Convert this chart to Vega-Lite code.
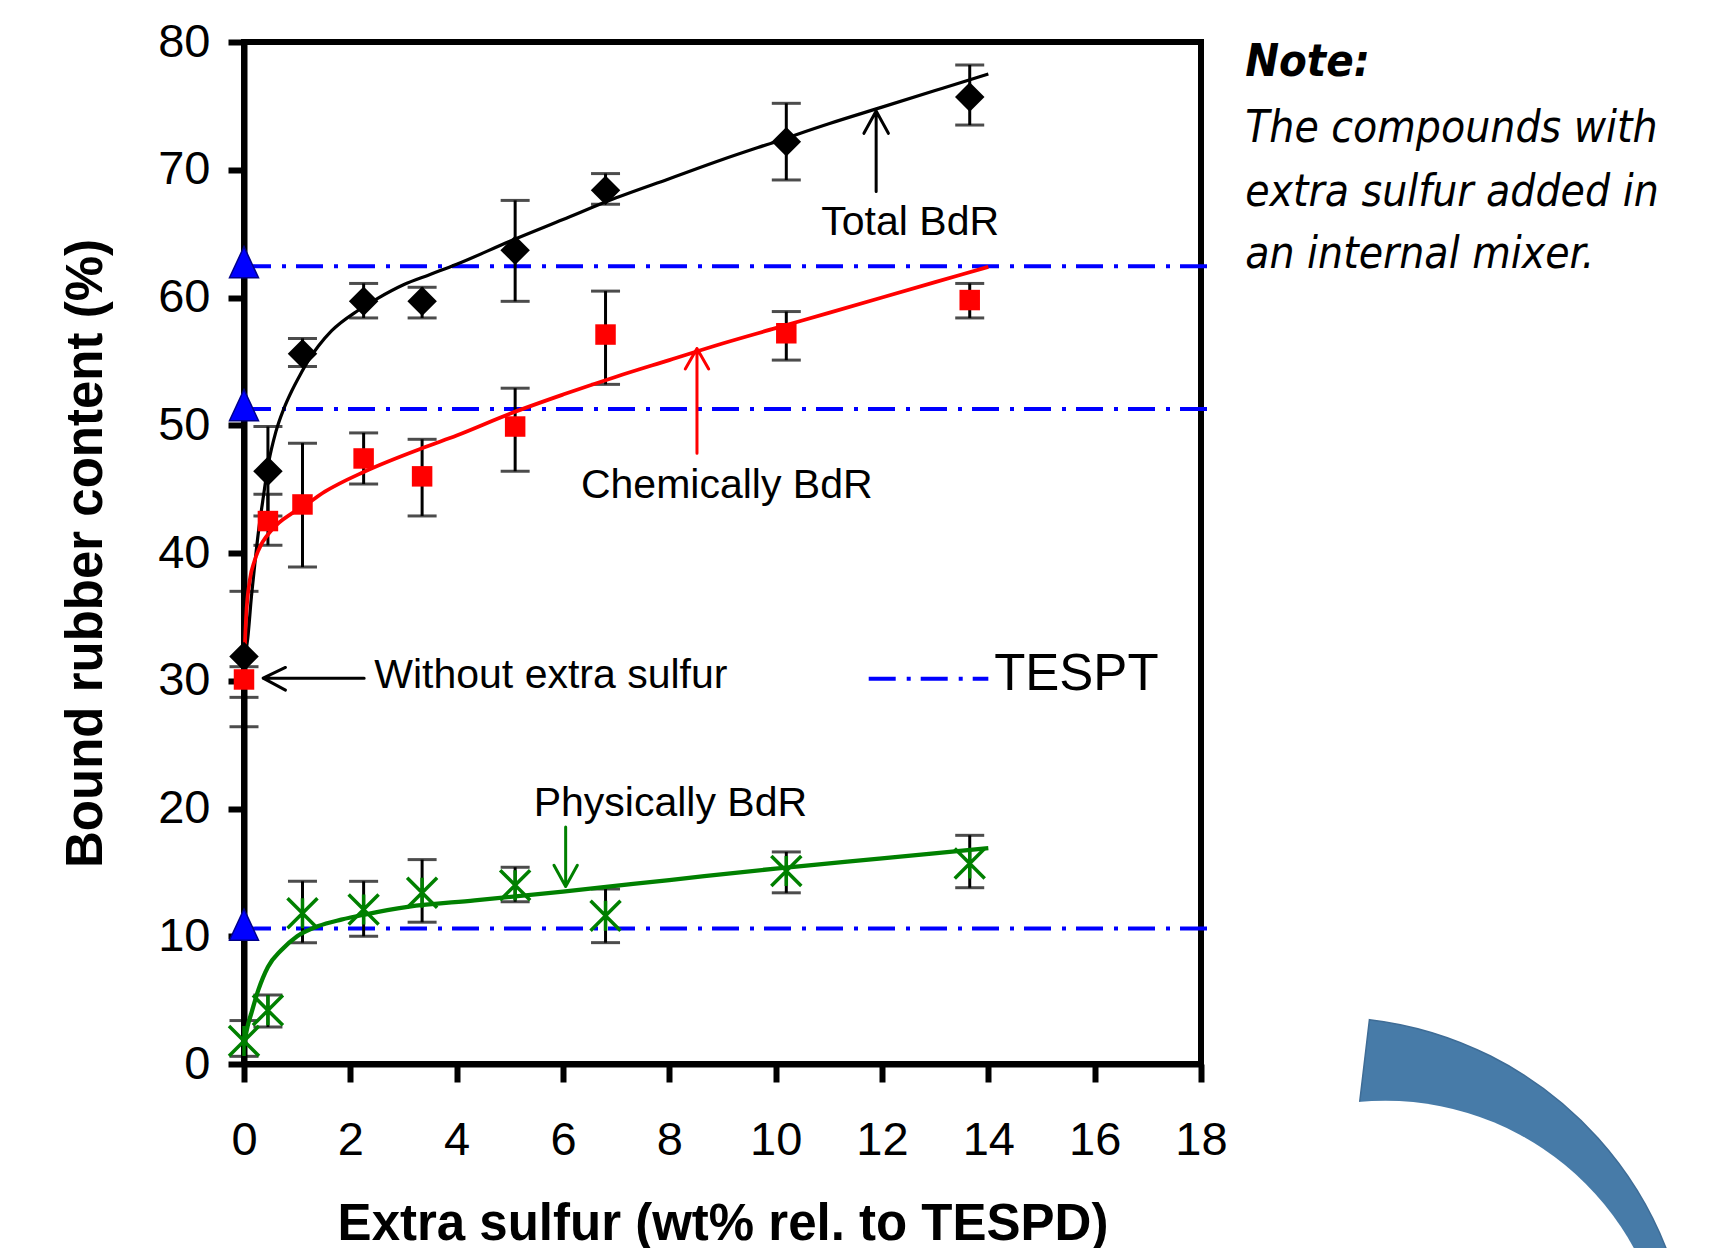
{
  "$schema": "https://vega.github.io/schema/vega-lite/v6.json",
  "autosize": {"type": "none"},
  "width": 957,
  "height": 1022,
  "padding": {"left": 244, "top": 42, "right": 523, "bottom": 184},
  "background": "white",
  "config": {
    "view": {"stroke": "black", "strokeWidth": 6},
    "axis": {
      "grid": false,
      "domainColor": "black",
      "domainWidth": 6,
      "tickColor": "black",
      "tickWidth": 6,
      "labelFont": "Liberation Sans",
      "labelFontSize": 47,
      "labelColor": "black",
      "labelOverlap": false,
      "labelFlush": false,
      "titleFont": "Liberation Sans",
      "titleFontSize": 51,
      "titleFontWeight": "bold",
      "titleColor": "black",
      "zindex": 1
    }
  },
  "datasets": {
    "pts": [
      {"series": "Total", "x": 0, "y": 31.9, "lo": 26.4, "hi": 37.0},
      {"series": "Total", "x": 0.45, "y": 46.4, "lo": 42.9, "hi": 49.9},
      {"series": "Total", "x": 1.1, "y": 55.6, "lo": 54.6, "hi": 56.8},
      {"series": "Total", "x": 2.25, "y": 59.7, "lo": 58.4, "hi": 61.1},
      {"series": "Total", "x": 3.35, "y": 59.7, "lo": 58.4, "hi": 60.8},
      {"series": "Total", "x": 5.1, "y": 63.7, "lo": 59.7, "hi": 67.6},
      {"series": "Total", "x": 6.8, "y": 68.4, "lo": 67.3, "hi": 69.7},
      {"series": "Total", "x": 10.2, "y": 72.2, "lo": 69.2, "hi": 75.2},
      {"series": "Total", "x": 13.65, "y": 75.7, "lo": 73.5, "hi": 78.2},
      {"series": "Chemically", "x": 0, "y": 30.1, "lo": 28.7, "hi": 31.1},
      {"series": "Chemically", "x": 0.45, "y": 42.5, "lo": 40.6, "hi": 44.6},
      {"series": "Chemically", "x": 1.1, "y": 43.8, "lo": 38.9, "hi": 48.6},
      {"series": "Chemically", "x": 2.25, "y": 47.4, "lo": 45.4, "hi": 49.4},
      {"series": "Chemically", "x": 3.35, "y": 46.0, "lo": 42.9, "hi": 48.9},
      {"series": "Chemically", "x": 5.1, "y": 49.9, "lo": 46.4, "hi": 52.9},
      {"series": "Chemically", "x": 6.8, "y": 57.1, "lo": 53.2, "hi": 60.5},
      {"series": "Chemically", "x": 10.2, "y": 57.2, "lo": 55.1, "hi": 58.9},
      {"series": "Chemically", "x": 13.65, "y": 59.8, "lo": 58.4, "hi": 61.1},
      {"series": "Physically", "x": 0, "y": 1.8, "lo": 0.6, "hi": 3.4},
      {"series": "Physically", "x": 0.45, "y": 4.2, "lo": 2.9, "hi": 5.4},
      {"series": "Physically", "x": 1.1, "y": 11.8, "lo": 9.5, "hi": 14.3},
      {"series": "Physically", "x": 2.25, "y": 12.1, "lo": 10.0, "hi": 14.3},
      {"series": "Physically", "x": 3.35, "y": 13.4, "lo": 11.1, "hi": 16.0},
      {"series": "Physically", "x": 5.1, "y": 14.0, "lo": 12.7, "hi": 15.4},
      {"series": "Physically", "x": 6.8, "y": 11.6, "lo": 9.5, "hi": 13.7},
      {"series": "Physically", "x": 10.2, "y": 15.1, "lo": 13.4, "hi": 16.6},
      {"series": "Physically", "x": 13.65, "y": 15.7, "lo": 13.8, "hi": 17.9}
    ],
    "curves": [
      {"series": "Total", "x": 0, "y": 31.4},
      {"series": "Total", "x": 0.07, "y": 33.3},
      {"series": "Total", "x": 0.14, "y": 36.6},
      {"series": "Total", "x": 0.2, "y": 39.0},
      {"series": "Total", "x": 0.27, "y": 41.6},
      {"series": "Total", "x": 0.35, "y": 44.0},
      {"series": "Total", "x": 0.46, "y": 47.0},
      {"series": "Total", "x": 0.6, "y": 49.5},
      {"series": "Total", "x": 0.75, "y": 51.3},
      {"series": "Total", "x": 0.9, "y": 52.7},
      {"series": "Total", "x": 1.05, "y": 53.9},
      {"series": "Total", "x": 1.2, "y": 55.0},
      {"series": "Total", "x": 1.4, "y": 56.2},
      {"series": "Total", "x": 1.65, "y": 57.4},
      {"series": "Total", "x": 2.15, "y": 59.0},
      {"series": "Total", "x": 2.5, "y": 59.9},
      {"series": "Total", "x": 3.0, "y": 61.0},
      {"series": "Total", "x": 3.5, "y": 61.8},
      {"series": "Total", "x": 4.0, "y": 62.6},
      {"series": "Total", "x": 5.0, "y": 64.4},
      {"series": "Total", "x": 6.0, "y": 66.1},
      {"series": "Total", "x": 7.0, "y": 67.8},
      {"series": "Total", "x": 8.0, "y": 69.3},
      {"series": "Total", "x": 9.0, "y": 70.8},
      {"series": "Total", "x": 10.0, "y": 72.2},
      {"series": "Total", "x": 11.0, "y": 73.6},
      {"series": "Total", "x": 12.0, "y": 74.9},
      {"series": "Total", "x": 13.0, "y": 76.2},
      {"series": "Total", "x": 14.0, "y": 77.5},
      {"series": "Chemically", "x": 0, "y": 30.1},
      {"series": "Chemically", "x": 0.015, "y": 32.5},
      {"series": "Chemically", "x": 0.04, "y": 35.0},
      {"series": "Chemically", "x": 0.11, "y": 37.9},
      {"series": "Chemically", "x": 0.2, "y": 39.4},
      {"series": "Chemically", "x": 0.27, "y": 40.2},
      {"series": "Chemically", "x": 0.52, "y": 41.8},
      {"series": "Chemically", "x": 0.9, "y": 43.1},
      {"series": "Chemically", "x": 1.1, "y": 43.6},
      {"series": "Chemically", "x": 1.52, "y": 44.8},
      {"series": "Chemically", "x": 2.28, "y": 46.4},
      {"series": "Chemically", "x": 3.41, "y": 48.3},
      {"series": "Chemically", "x": 4.0, "y": 49.2},
      {"series": "Chemically", "x": 5.0, "y": 50.9},
      {"series": "Chemically", "x": 6.0, "y": 52.4},
      {"series": "Chemically", "x": 7.0, "y": 53.8},
      {"series": "Chemically", "x": 8.0, "y": 55.1},
      {"series": "Chemically", "x": 9.0, "y": 56.4},
      {"series": "Chemically", "x": 10.0, "y": 57.6},
      {"series": "Chemically", "x": 11.0, "y": 58.8},
      {"series": "Chemically", "x": 12.0, "y": 60.0},
      {"series": "Chemically", "x": 13.0, "y": 61.2},
      {"series": "Chemically", "x": 14.0, "y": 62.4},
      {"series": "Physically", "x": 0, "y": 1.5},
      {"series": "Physically", "x": 0.03, "y": 2.2},
      {"series": "Physically", "x": 0.07, "y": 3.0},
      {"series": "Physically", "x": 0.14, "y": 4.0},
      {"series": "Physically", "x": 0.27, "y": 5.8},
      {"series": "Physically", "x": 0.45, "y": 7.6},
      {"series": "Physically", "x": 0.7, "y": 8.9},
      {"series": "Physically", "x": 1.0, "y": 10.0},
      {"series": "Physically", "x": 1.4, "y": 10.8},
      {"series": "Physically", "x": 1.83, "y": 11.3},
      {"series": "Physically", "x": 2.27, "y": 11.7},
      {"series": "Physically", "x": 3.08, "y": 12.3},
      {"series": "Physically", "x": 4.34, "y": 12.8},
      {"series": "Physically", "x": 6.0, "y": 13.5},
      {"series": "Physically", "x": 8.0, "y": 14.4},
      {"series": "Physically", "x": 10.0, "y": 15.3},
      {"series": "Physically", "x": 12.0, "y": 16.1},
      {"series": "Physically", "x": 14.0, "y": 16.9}
    ],
    "tespt": [
      {"level": "total", "x": 0, "y": 62.45},
      {"level": "total", "x": 18.15, "y": 62.45},
      {"level": "chem", "x": 0, "y": 51.27},
      {"level": "chem", "x": 18.15, "y": 51.27},
      {"level": "phys", "x": 0, "y": 10.6},
      {"level": "phys", "x": 18.15, "y": 10.6},
      {"level": "legend", "x": 11.75, "y": 30.15},
      {"level": "legend", "x": 14.0, "y": 30.15}
    ],
    "tri": [
      {"x": 0, "y": 62.45},
      {"x": 0, "y": 51.27},
      {"x": 0, "y": 10.6}
    ],
    "arrows": [
      {"series": "Total", "id": "a1", "o": 1, "x": 11.89, "y": 68.3},
      {"series": "Total", "id": "a1", "o": 2, "x": 11.89, "y": 74.6},
      {"series": "Total", "id": "a1", "o": 3, "x": 11.66, "y": 72.85},
      {"series": "Total", "id": "a1", "o": 4, "x": 11.89, "y": 74.6},
      {"series": "Total", "id": "a1", "o": 5, "x": 12.12, "y": 72.85},
      {"series": "Chemically", "id": "a2", "o": 1, "x": 8.52, "y": 47.8},
      {"series": "Chemically", "id": "a2", "o": 2, "x": 8.52, "y": 56.0},
      {"series": "Chemically", "id": "a2", "o": 3, "x": 8.3, "y": 54.4},
      {"series": "Chemically", "id": "a2", "o": 4, "x": 8.52, "y": 56.0},
      {"series": "Chemically", "id": "a2", "o": 5, "x": 8.74, "y": 54.4},
      {"series": "Physically", "id": "a3", "o": 1, "x": 6.05, "y": 18.55},
      {"series": "Physically", "id": "a3", "o": 2, "x": 6.05, "y": 13.9},
      {"series": "Physically", "id": "a3", "o": 3, "x": 5.83, "y": 15.55},
      {"series": "Physically", "id": "a3", "o": 4, "x": 6.05, "y": 13.9},
      {"series": "Physically", "id": "a3", "o": 5, "x": 6.27, "y": 15.55},
      {"series": "Without", "id": "a4", "o": 1, "x": 2.26, "y": 30.2},
      {"series": "Without", "id": "a4", "o": 2, "x": 0.36, "y": 30.2},
      {"series": "Without", "id": "a4", "o": 3, "x": 0.78, "y": 31.04},
      {"series": "Without", "id": "a4", "o": 4, "x": 0.36, "y": 30.2},
      {"series": "Without", "id": "a4", "o": 5, "x": 0.78, "y": 29.27}
    ],
    "labels": [
      {"t": "Total BdR", "x": 12.53, "y": 64.9},
      {"t": "Chemically BdR", "x": 9.08, "y": 44.3},
      {"t": "Physically BdR", "x": 8.02, "y": 19.45}
    ],
    "leftlabels": [
      {"t": "Without extra sulfur", "x": 2.45, "y": 29.42}
    ],
    "legendtext": [
      {"t": "TESPT", "x": 14.11, "y": 29.24}
    ],
    "notehead": [
      {"t": "Note:", "x": 18.83, "y": 77.3}
    ],
    "note": [
      {"t": "The compounds with", "x": 18.83, "y": 72.2},
      {"t": "extra sulfur added in", "x": 18.83, "y": 67.2},
      {"t": "an internal mixer.", "x": 18.83, "y": 62.3}
    ],
    "decoOuter": [{"x": 20.36, "y": -24.9}],
    "decoInner": [{"x": 21.47, "y": -25.03}]
  },
  "encoding": {
    "x": {
      "field": "x", "type": "quantitative",
      "scale": {"domain": [0, 18], "nice": false, "zero": false},
      "title": "Extra sulfur (wt% rel. to TESPD)",
      "axis": {"values": [0, 2, 4, 6, 8, 10, 12, 14, 16, 18], "tickSize": 18, "labelPadding": 35, "titlePadding": 36}
    },
    "y": {
      "field": "y", "type": "quantitative",
      "scale": {"domain": [0, 80], "nice": false, "zero": false},
      "title": "Bound rubber content (%)",
      "axis": {"values": [0, 10, 20, 30, 40, 50, 60, 70, 80], "tickSize": 16, "labelPadding": 18, "titlePadding": 45}
    }
  },
  "layer": [
    {
      "data": {"name": "decoOuter"},
      "mark": {"type": "arc", "radius": 365, "radius2": 0, "theta": 0.118, "theta2": 3.0, "fill": "#477BA8", "stroke": "#3E6C96", "strokeWidth": 1.5}
    },
    {
      "data": {"name": "decoInner"},
      "mark": {"type": "arc", "radius": 283, "theta": 0, "theta2": 6.2832, "fill": "white"}
    },
    {
      "data": {"name": "tespt"},
      "mark": {"type": "line", "color": "#0000FF", "strokeWidth": 4, "strokeDash": [27, 11, 4, 10]},
      "encoding": {"detail": {"field": "level"}}
    },
    {
      "data": {"name": "pts"},
      "mark": {"type": "errorbar", "ticks": {"size": 29, "thickness": 3, "color": "black"}, "rule": {"strokeWidth": 3, "color": "black"}},
      "encoding": {
        "y": {"field": "lo", "type": "quantitative", "scale": {"domain": [0, 80], "nice": false, "zero": false}, "title": "Bound rubber content (%)"},
        "y2": {"field": "hi"}
      }
    },
    {
      "data": {"name": "curves"},
      "mark": {"type": "line", "interpolate": "monotone"},
      "encoding": {
        "color": {"field": "series", "type": "nominal", "scale": {"domain": ["Total", "Chemically", "Physically", "Without"], "range": ["#000000", "#FF0000", "#008000", "#000000"]}, "legend": null},
        "strokeWidth": {"field": "series", "type": "nominal", "scale": {"domain": ["Total", "Chemically", "Physically"], "range": [3.2, 4.3, 4.3]}, "legend": null}
      }
    },
    {
      "data": {"name": "arrows"},
      "mark": {"type": "line", "strokeWidth": 3, "strokeCap": "round", "strokeJoin": "round"},
      "encoding": {
        "detail": {"field": "id"},
        "order": {"field": "o", "type": "quantitative"},
        "color": {"field": "series", "type": "nominal", "scale": {"domain": ["Total", "Chemically", "Physically", "Without"], "range": ["#000000", "#FF0000", "#008000", "#000000"]}, "legend": null}
      }
    },
    {
      "data": {"name": "pts"},
      "transform": [{"filter": "datum.series === 'Total'"}],
      "mark": {"type": "point", "shape": "diamond", "filled": true, "size": 870, "color": "black", "opacity": 1}
    },
    {
      "data": {"name": "pts"},
      "transform": [{"filter": "datum.series === 'Chemically'"}],
      "mark": {"type": "point", "shape": "square", "filled": true, "size": 420, "color": "#FF0000", "opacity": 1}
    },
    {
      "data": {"name": "pts"},
      "transform": [{"filter": "datum.series === 'Physically'"}],
      "mark": {"type": "point", "shape": "M-1,-1L1,1M-1,1L1,-1M0,-1L0,1", "filled": false, "size": 900, "stroke": "#008000", "strokeWidth": 3.5, "opacity": 1}
    },
    {
      "data": {"name": "tri"},
      "mark": {"type": "point", "shape": "M0,-1.35L-1,0.8L1,0.8Z", "filled": true, "size": 841, "fill": "#0000FF", "stroke": "#00008B", "strokeWidth": 1.5, "opacity": 1}
    },
    {
      "data": {"name": "labels"},
      "mark": {"type": "text", "font": "Liberation Sans", "fontSize": 41, "align": "center", "baseline": "alphabetic", "color": "black"},
      "encoding": {"text": {"field": "t"}}
    },
    {
      "data": {"name": "leftlabels"},
      "mark": {"type": "text", "font": "Liberation Sans", "fontSize": 41, "align": "left", "baseline": "alphabetic", "color": "black"},
      "encoding": {"text": {"field": "t"}}
    },
    {
      "data": {"name": "legendtext"},
      "mark": {"type": "text", "font": "Liberation Sans", "fontSize": 51, "align": "left", "baseline": "alphabetic", "color": "black"},
      "encoding": {"text": {"field": "t"}}
    },
    {
      "data": {"name": "notehead"},
      "mark": {"type": "text", "font": "DejaVu Sans Condensed, Liberation Sans", "fontSize": 45, "fontStyle": "italic", "fontWeight": "bold", "align": "left", "baseline": "alphabetic", "color": "black"},
      "encoding": {"text": {"field": "t"}}
    },
    {
      "data": {"name": "note"},
      "mark": {"type": "text", "font": "DejaVu Sans Condensed, Liberation Sans", "fontSize": 44, "fontStyle": "italic", "align": "left", "baseline": "alphabetic", "color": "black"},
      "encoding": {"text": {"field": "t"}}
    }
  ]
}
